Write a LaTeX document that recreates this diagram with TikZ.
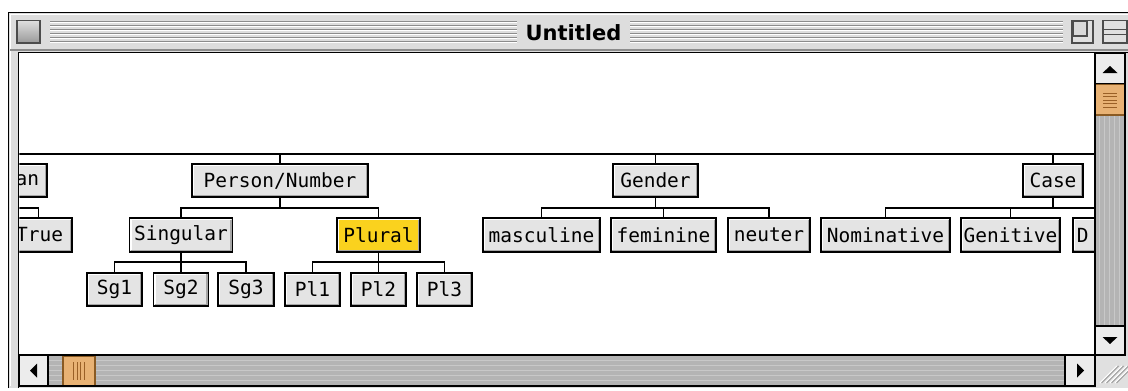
\documentclass[tikz,border=0pt]{standalone}
\usepackage{fontspec}
\newfontfamily\treefont{DejaVu Sans Mono}
\newfontfamily\barfont{DejaVu Sans}
\definecolor{framegray}{HTML}{DDDDDD}
\definecolor{boxgray}{HTML}{E4E4E4}
\definecolor{stripegray}{HTML}{8C8C8C}
\definecolor{trackgray}{HTML}{B4B4B4}
\definecolor{tracklight}{HTML}{C8C8C8}
\definecolor{thumborange}{HTML}{E8B274}
\definecolor{thumbdark}{HTML}{8A5A22}
\definecolor{thumbgrip}{HTML}{9A6026}
\definecolor{pickyellow}{HTML}{FAD21E}
\definecolor{arrowface}{HTML}{ECECEC}
\tikzset{
  wire/.style={line width=1.3pt, black},
  treebox/.style={draw=black, line width=1.6pt, fill=boxgray, minimum height=33.5pt,
    inner sep=0pt, font=\treefont\fontsize{19.5}{19.5}\selectfont,
    path picture={
      \draw[white, line width=1.4pt]
        ([shift={(1.4pt,1.4pt)}]path picture bounding box.south west) |-
        ([shift={(-1.4pt,-1.4pt)}]path picture bounding box.north east);
      \draw[black!35, line width=1.4pt]
        ([shift={(1.4pt,1.4pt)}]path picture bounding box.south west) -|
        ([shift={(-1.4pt,-1.4pt)}]path picture bounding box.north east);
    }},
  picked/.style={fill=pickyellow},
  chrome/.style={draw=black, line width=1.2pt},
  arrowbox/.style={draw=black, line width=1.2pt, fill=arrowface},
  tip/.style={fill=black},
  stripe/.style={stripegray, line width=1pt},
}
\begin{document}
\begin{tikzpicture}[x=1pt,y=-1pt]
\useasboundingbox[fill=white] (0,0) rectangle (1128,391);

% window frame and title bar
\fill[framegray] (8,12) rectangle (1130,388);
\draw[line width=1.4pt] (8.7,388) -- (8.7,12.7) -- (1130,12.7);
\draw[white, line width=1pt] (10.5,386) -- (10.5,14.5) -- (1128,14.5);
\draw[black!45, line width=1.2pt] (10,50) -- (1130,50);
\foreach \y in {21.5,25.5,29.5,33.5,37.5,41.5} {
  \draw[stripe] (50,\y) -- (517,\y);
  \draw[stripe] (630,\y) -- (1063,\y);
  \draw[white, line width=1pt] (50,\y+1.2) -- (517,\y+1.2);
  \draw[white, line width=1pt] (630,\y+1.2) -- (1063,\y+1.2);
}
\node[font=\barfont\bfseries\fontsize{21}{21}\selectfont, inner sep=0pt] (title) at (573.5,32.5) {Untitled};

% close box
\draw[black!70, line width=1.4pt, top color=white!75!gray, bottom color=black!40]
  (17,20.5) rectangle (40,43);
% zoom box
\draw[black!70, line width=1.4pt, fill=black!12] (1072,20.5) rectangle (1093,43);
\draw[black!70, line width=1.2pt, fill=white!70!gray] (1073,21.5) rectangle (1087,36);
% collapse box
\draw[black!70, line width=1.4pt, fill=black!12] (1103,20.5) rectangle (1127,43);
\draw[black!70, line width=1.2pt] (1103,29.5) -- (1127,29.5);
\draw[black!70, line width=1.2pt] (1103,34.5) -- (1127,34.5);

% content area
\fill[white] (18,52) rectangle (1095,355);
\draw[chrome] (18.6,388) -- (18.6,52.6) -- (1130,52.6);

% tree
\begin{scope}
\clip (19.3,53.3) rectangle (1094.4,354.4);
\coordinate (topL) at (0,154);
\coordinate (topR) at (1100,154);
\coordinate (barA) at (0,208);
\coordinate (barB) at (0,262);
\coordinate (barR) at (1100,208);

% level 1
\node[treebox, anchor=east, text width=60pt, align=right, inner xsep=8pt] (an) at (48,180.5) {an};
\node[treebox, minimum width=176pt] (pn) at (280,180.5) {Person/Number};
\node[treebox, minimum width=85pt] (gd) at (655.5,180.5) {Gender};
\node[treebox, minimum width=60pt] (cs) at (1053,180.5) {Case};
% level 2
\node[treebox, anchor=east, text width=50pt, align=right, inner xsep=9pt] (tu) at (73,235) {True};
\node[treebox, minimum width=103pt] (sg) at (181,235) {Singular};
\node[treebox, picked, minimum width=83pt] (pl) at (378.5,235) {Plural};
\node[treebox, minimum width=117pt] (ms) at (541.5,235) {masculine};
\node[treebox, minimum width=105pt] (fm) at (663.5,235) {feminine};
\node[treebox, minimum width=82pt] (nt) at (769,235) {neuter};
\node[treebox, minimum width=129pt] (nm) at (885.5,235) {Nominative};
\node[treebox, minimum width=99pt] (gn) at (1010.5,235) {Genitive};
\node[treebox, anchor=west, text width=40pt, align=left, inner xsep=4pt] (dt) at (1072,235) {D};
% level 3
\node[treebox, minimum width=55pt] (s1) at (114.5,289.5) {Sg1};
\node[treebox, minimum width=55pt] (s2) at (181,289.5) {Sg2};
\node[treebox, minimum width=56pt] (s3) at (246,289.5) {Sg3};
\node[treebox, minimum width=55pt] (p1) at (312.5,289.5) {Pl1};
\node[treebox, minimum width=55pt] (p2) at (378.5,289.5) {Pl2};
\node[treebox, minimum width=55pt] (p3) at (444.5,289.5) {Pl3};

% root bar and stubs
\draw[wire] (topL) -- (topR);
\draw[wire] (pn.north) -- (pn.north |- topL);
\draw[wire] (gd.north) -- (gd.north |- topL);
\draw[wire] (cs.north) -- (cs.north |- topL);
% boolean branch
\draw[wire] (barA) -| (tu.north);
% person/number
\draw[wire] (pn.south) -- (pn.south |- barA);
\draw[wire] (sg.north) |- (pn.south |- barA) -| (pl.north);
\draw[wire] (sg.south) -- (s2.north);
\draw[wire] (s1.north) |- (sg.south |- barB) -| (s3.north);
\draw[wire] (pl.south) -- (p2.north);
\draw[wire] (p1.north) |- (pl.south |- barB) -| (p3.north);
% gender
\draw[wire] (gd.south) -- (gd.south |- barA);
\draw[wire] (ms.north) |- (gd.south |- barA) -| (nt.north);
\draw[wire] (fm.north) -- (fm.north |- barA);
% case
\draw[wire] (cs.south) -- (cs.south |- barA);
\draw[wire] (nm.north) |- (barR);
\draw[wire] (gn.north) -- (gn.north |- barA);
\end{scope}

% vertical scroll bar
\fill[trackgray] (1095,84) rectangle (1125,326);
\foreach \x in {1099,1104,1109,1114,1119}
  \draw[tracklight, line width=1pt] (\x,115) -- (\x,326);
\draw[arrowbox] (1095,53) rectangle (1125,84);
\fill[tip] (1102.5,73) -- (1117.5,73) -- (1110,66) -- cycle;
\draw[draw=thumbdark, line width=1.3pt, fill=thumborange] (1095.7,84.5) rectangle (1124.3,115);
\foreach \y in {93,96.5,100,103.5,107}
  \draw[thumbgrip, line width=1pt] (1103,\y) -- (1117,\y);
\draw[arrowbox] (1095,326) rectangle (1125,355);
\fill[tip] (1102.5,337) -- (1117.5,337) -- (1110,344) -- cycle;
\draw[chrome] (1095,53) -- (1095,355);
\draw[chrome] (1125,53) -- (1125,355);

% horizontal scroll bar
\fill[trackgray] (48,355) rectangle (1065,386);
\foreach \y in {360,365,370,375,380}
  \draw[tracklight, line width=1pt] (48,\y) -- (1065,\y);
\draw[arrowbox] (19,355) rectangle (48,386);
\fill[tip] (37,363.5) -- (37,377.5) -- (30,370.5) -- cycle;
\draw[draw=thumbdark, line width=1.3pt, fill=thumborange] (63,356) rectangle (95,385.5);
\foreach \x in {73.5,77,80.5,84}
  \draw[thumbgrip, line width=1pt] (\x,362) -- (\x,380);
\draw[arrowbox] (1065,355) rectangle (1095,386);
\fill[tip] (1077,363.5) -- (1077,377.5) -- (1084,370.5) -- cycle;
\draw[chrome] (18.6,355) -- (1095,355);
\draw[chrome] (18.6,386) -- (1095,386);

% grow box
\fill[framegray] (1126,356) rectangle (1128,388);
\fill[black!12] (1096,356) rectangle (1128,388);
\foreach \d in {0,5,10,15} {
  \draw[white, line width=1.2pt] (1100+\d,383) -- (1117+\d,366);
  \draw[black!40, line width=1pt] (1101.5+\d,383) -- (1118.5+\d,366);
}
\end{tikzpicture}
\end{document}
